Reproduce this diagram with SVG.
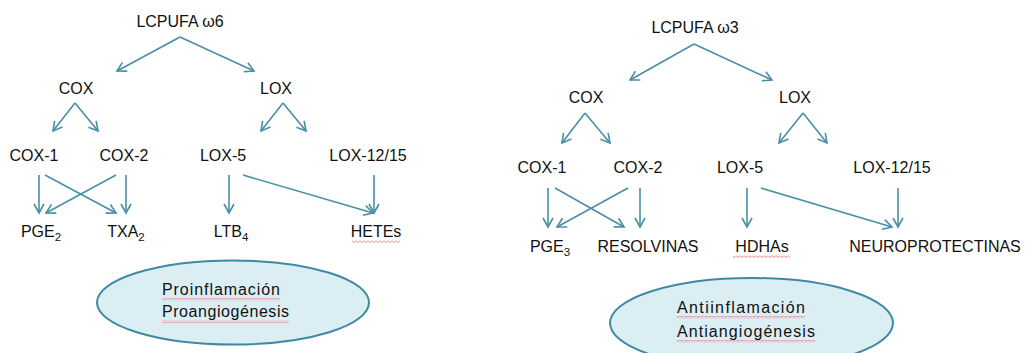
<svg xmlns="http://www.w3.org/2000/svg" width="1027" height="353" viewBox="0 0 1027 353">
<style>
text{font-family:"Liberation Sans",Arial,sans-serif;font-size:16px;fill:#111}
.c{text-anchor:middle}
.sub{font-size:11.5px}
.ln{stroke:#4a8fa6;stroke-width:1.6;fill:none;marker-end:url(#ah)}
.ell{fill:#dbeef4;stroke:#3f8aa2;stroke-width:2}
.sq{fill:url(#squig)}
</style>
<defs>
<marker id="ah" markerUnits="userSpaceOnUse" markerWidth="14" markerHeight="14" viewBox="-11 -7 13 14" refX="0" refY="0" orient="auto">
<path d="M-9,-5 L0,0 L-9,5" fill="none" stroke="#4a8fa6" stroke-width="1.6"/>
</marker>
<pattern id="squig" width="4" height="3" patternUnits="userSpaceOnUse">
<path d="M0,0.5 L2,2.5 L4,0.5" fill="none" stroke="#e06060" stroke-width="0.8"/>
</pattern>
</defs>
<g id="connectors">
<line class="ln" x1="180" y1="37" x2="117" y2="71"/>
<line class="ln" x1="180" y1="37" x2="254" y2="71"/>
<line class="ln" x1="75" y1="103" x2="53" y2="131"/>
<line class="ln" x1="75" y1="103" x2="98" y2="131"/>
<line class="ln" x1="283" y1="103" x2="261" y2="131"/>
<line class="ln" x1="283" y1="103" x2="306" y2="131"/>
<line class="ln" x1="39" y1="175" x2="39" y2="213"/>
<line class="ln" x1="45" y1="175" x2="116" y2="213"/>
<line class="ln" x1="116" y1="175" x2="46" y2="213"/>
<line class="ln" x1="126" y1="175" x2="126" y2="213"/>
<line class="ln" x1="229" y1="175" x2="229" y2="213"/>
<line class="ln" x1="243" y1="175" x2="373" y2="213"/>
<line class="ln" x1="374" y1="175" x2="374" y2="213"/>
<line class="ln" x1="694" y1="44" x2="630" y2="80"/>
<line class="ln" x1="694" y1="44" x2="772" y2="80"/>
<line class="ln" x1="585" y1="113" x2="562" y2="143"/>
<line class="ln" x1="585" y1="113" x2="610" y2="143"/>
<line class="ln" x1="803" y1="113" x2="779" y2="143"/>
<line class="ln" x1="803" y1="113" x2="827" y2="143"/>
<line class="ln" x1="548" y1="188" x2="548" y2="227"/>
<line class="ln" x1="555" y1="188" x2="624" y2="227"/>
<line class="ln" x1="628" y1="188" x2="557" y2="227"/>
<line class="ln" x1="640" y1="188" x2="640" y2="227"/>
<line class="ln" x1="747" y1="188" x2="747" y2="227"/>
<line class="ln" x1="761" y1="188" x2="892" y2="227"/>
<line class="ln" x1="898" y1="188" x2="898" y2="227"/>
</g>
<g id="n-lcpufa6"><text class="c" x="180" y="27">LCPUFA ω6</text></g>
<g id="n-cox-l"><text class="c" x="76" y="94">COX</text></g>
<g id="n-lox-l"><text class="c" x="276" y="94">LOX</text></g>
<g id="n-cox1-l"><text class="c" x="34" y="161">COX-1</text></g>
<g id="n-cox2-l"><text class="c" x="124" y="161">COX-2</text></g>
<g id="n-lox5-l"><text class="c" x="223" y="161">LOX-5</text></g>
<g id="n-lox1215-l"><text class="c" x="368" y="161">LOX-12/15</text></g>
<g id="n-pge2"><text class="c" x="41" y="237">PGE<tspan class="sub" dy="4">2</tspan></text></g>
<g id="n-txa2"><text class="c" x="126" y="237">TXA<tspan class="sub" dy="4">2</tspan></text></g>
<g id="n-ltb4"><text class="c" x="231" y="237">LTB<tspan class="sub" dy="4">4</tspan></text></g>
<g id="n-hetes"><text class="c" x="376" y="237">HETEs</text><rect class="sq" x="352" y="240" width="48" height="3"/></g>
<g id="n-pro">
<ellipse class="ell" cx="233" cy="302.5" rx="136" ry="42"/>
<text x="162" y="295" textLength="118" lengthAdjust="spacing">Proinflamación</text>
<text x="162" y="317" textLength="127" lengthAdjust="spacing">Proangiogénesis</text>
<rect class="sq" x="162" y="298" width="118" height="3"/>
<rect class="sq" x="162" y="320" width="127" height="3"/>
</g>
<g id="n-lcpufa3"><text class="c" x="695" y="33">LCPUFA ω3</text></g>
<g id="n-cox-r"><text class="c" x="586" y="103">COX</text></g>
<g id="n-lox-r"><text class="c" x="795" y="103">LOX</text></g>
<g id="n-cox1-r"><text class="c" x="542" y="173">COX-1</text></g>
<g id="n-cox2-r"><text class="c" x="638" y="173">COX-2</text></g>
<g id="n-lox5-r"><text class="c" x="740" y="173">LOX-5</text></g>
<g id="n-lox1215-r"><text class="c" x="892" y="173">LOX-12/15</text></g>
<g id="n-pge3"><text class="c" x="550" y="252">PGE<tspan class="sub" dy="4">3</tspan></text></g>
<g id="n-resolvinas"><text class="c" x="648" y="252">RESOLVINAS</text></g>
<g id="n-hdhas"><text class="c" x="762" y="252">HDHAs</text><rect class="sq" x="733" y="255" width="57" height="3"/></g>
<g id="n-neuro"><text class="c" x="935" y="252">NEUROPROTECTINAS</text></g>
<g id="n-anti">
<ellipse class="ell" cx="751.5" cy="323" rx="141.5" ry="45"/>
<text x="677" y="313" textLength="128" lengthAdjust="spacing">Antiinflamación</text>
<text x="677" y="337" textLength="138" lengthAdjust="spacing">Antiangiogénesis</text>
<rect class="sq" x="677" y="316" width="128" height="3"/>
<rect class="sq" x="677" y="340" width="138" height="3"/>
</g>
</svg>
